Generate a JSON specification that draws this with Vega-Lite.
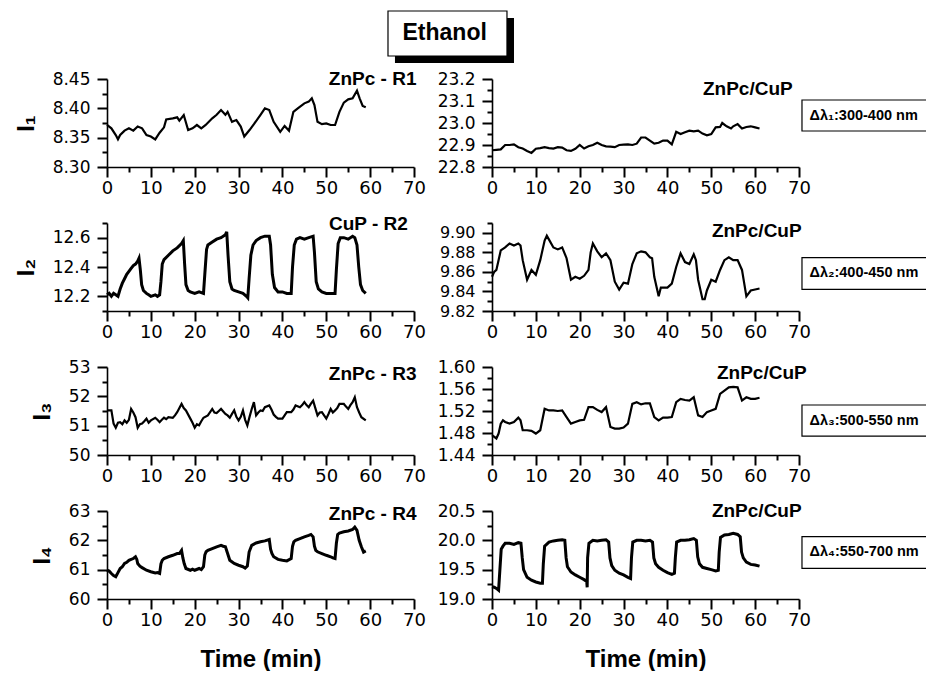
{
"$schema":"https://vega.github.io/schema/vega-lite/v6.json",
"autosize":{"type":"pad"},
"padding":{"left":14,"top":10,"right":0,"bottom":0},
"background":"white",
"config":{
 "font":"Liberation Sans",
 "view":{"stroke":null},
 "axis":{"grid":false,"ticks":true,"domainColor":"black","tickColor":"black","labelColor":"black","titleColor":"black","labelFont":"DejaVu Sans","titleFont":"Liberation Sans","labelFontSize":17,"domainWidth":1.6,"tickWidth":2,"labelOverlap":false,"labelFlush":false,"tickSize":10},
 "axisX":{"labelPadding":2,"labelFontSize":18},
 "axisY":{"labelPadding":7,"titleFontSize":24,"titleFontWeight":"bold","titlePadding":14}
},
"columns":2,
"spacing":{"row":56,"column":78},
"bounds":"flush",
"concat":[
{"width":307,"height":88,"resolve":{"axis":{"x":"independent","y":"independent"}},"layer":[
 {"data":{"name":"r1"},"mark":{"type":"line","color":"black","strokeWidth":2.2},"encoding":{
  "x":{"field":"t","type":"quantitative","scale":{"domain":[0,70],"nice":false,"zero":false},"axis":{"values":[0,10,20,30,40,50,60,70],"format":"d","ticks":true,"tickSize":10,"labelOverlap":false,"title":null}},
  "y":{"field":"v","type":"quantitative","scale":{"domain":[8.3,8.45],"nice":false,"zero":false},"axis":{"values":[8.3,8.35,8.4,8.45],"format":".2f","ticks":true,"tickSize":10,"labelOverlap":false,"title":"I₁"}}}},
 {"data":{"values":[{}]},"mark":{"type":"text","fontSize":19,"fontWeight":"bold","align":"right","baseline":"alphabetic","color":"black"},"encoding":{"x":{"datum":70.56,"axis":{"orient":"bottom","values":[5,15,25,35,45,55,65],"labels":false,"domain":false,"ticks":true,"tickSize":5,"title":null}},"y":{"datum":8.4398,"axis":{"orient":"left","values":[8.325,8.375,8.425],"labels":false,"domain":false,"ticks":true,"tickSize":5,"title":null}},"text":{"value":"ZnPc - R1"}}},
 {"data":{"values":[{}]},"mark":{"type":"rect","color":"black"},"encoding":{"x":{"datum":65.66,"axis":null},"x2":{"datum":92.8},"y":{"datum":8.554,"axis":null},"y2":{"datum":8.4773}}},
 {"data":{"values":[{}]},"mark":{"type":"rect","fill":"white","stroke":"black","strokeWidth":1.2},"encoding":{"x":{"datum":64.07,"axis":null},"x2":{"datum":91.2},"y":{"datum":8.5659,"axis":null},"y2":{"datum":8.4892}}},
 {"data":{"values":[{}]},"mark":{"type":"text","fontSize":23,"fontWeight":"bold","align":"center","baseline":"middle","color":"black"},"encoding":{"x":{"datum":77.0,"axis":null},"y":{"datum":8.5276,"axis":null},"text":{"value":"Ethanol"}}}
]},
{"width":307,"height":88,"resolve":{"axis":{"x":"independent","y":"independent"}},"layer":[
 {"data":{"name":"s1"},"mark":{"type":"line","color":"black","strokeWidth":2.2},"encoding":{
  "x":{"field":"t","type":"quantitative","scale":{"domain":[0,70],"nice":false,"zero":false},"axis":{"values":[0,10,20,30,40,50,60,70],"format":"d","ticks":true,"tickSize":10,"labelOverlap":false,"title":null}},
  "y":{"field":"v","type":"quantitative","scale":{"domain":[22.8,23.2],"nice":false,"zero":false},"axis":{"values":[22.8,22.9,23.0,23.1,23.2],"format":".1f","ticks":true,"tickSize":10,"labelOverlap":false,"title":null}}}},
 {"data":{"values":[{}]},"mark":{"type":"text","fontSize":19,"fontWeight":"bold","align":"right","baseline":"alphabetic","color":"black"},"encoding":{"x":{"datum":68.56,"axis":{"orient":"bottom","values":[5,15,25,35,45,55,65],"labels":false,"domain":false,"ticks":true,"tickSize":5,"title":null}},"y":{"datum":23.127,"axis":{"orient":"left","values":[22.85,22.95,23.05,23.15],"labels":false,"domain":false,"ticks":true,"tickSize":5,"title":null}},"text":{"value":"ZnPc/CuP"}}},
 {"data":{"values":[{}]},"mark":{"type":"rect","fill":"white","stroke":"black","strokeWidth":1.2},"encoding":{"x":{"datum":70.68,"axis":null},"x2":{"datum":100},"y":{"datum":23.1045,"axis":null},"y2":{"datum":22.9636}}},
 {"data":{"values":[{}]},"mark":{"type":"text","fontSize":14.5,"fontWeight":"bold","align":"left","baseline":"middle","color":"black"},"encoding":{"x":{"datum":72.4,"axis":null},"y":{"datum":23.034,"axis":null},"text":{"value":"Δλ₁:300-400 nm"}}}
]},
{"width":307,"height":88,"resolve":{"axis":{"x":"independent","y":"independent"}},"layer":[
 {"data":{"name":"r2"},"mark":{"type":"line","color":"black","strokeWidth":3},"encoding":{
  "x":{"field":"t","type":"quantitative","scale":{"domain":[0,70],"nice":false,"zero":false},"axis":{"values":[0,10,20,30,40,50,60,70],"format":"d","ticks":true,"tickSize":10,"labelOverlap":false,"title":null}},
  "y":{"field":"v","type":"quantitative","scale":{"domain":[12.1,12.7],"nice":false,"zero":false},"axis":{"values":[12.2,12.4,12.6],"format":".1f","ticks":true,"tickSize":10,"labelOverlap":false,"title":"I₂"}}}},
 {"data":{"values":[{}]},"mark":{"type":"text","fontSize":19,"fontWeight":"bold","align":"right","baseline":"alphabetic","color":"black"},"encoding":{"x":{"datum":68.6,"axis":{"orient":"bottom","values":[5,15,25,35,45,55,65],"labels":false,"domain":false,"ticks":true,"tickSize":5,"title":null}},"y":{"datum":12.652,"axis":{"orient":"left","values":[12.1,12.3,12.5,12.7],"labels":false,"domain":false,"ticks":true,"tickSize":5,"title":null}},"text":{"value":"CuP - R2"}}}
]},
{"width":307,"height":88,"resolve":{"axis":{"x":"independent","y":"independent"}},"layer":[
 {"data":{"name":"s2"},"mark":{"type":"line","color":"black","strokeWidth":2.2},"encoding":{
  "x":{"field":"t","type":"quantitative","scale":{"domain":[0,70],"nice":false,"zero":false},"axis":{"values":[0,10,20,30,40,50,60,70],"format":"d","ticks":true,"tickSize":10,"labelOverlap":false,"title":null}},
  "y":{"field":"v","type":"quantitative","scale":{"domain":[9.82,9.91],"nice":false,"zero":false},"axis":{"values":[9.82,9.84,9.86,9.88,9.9],"format":".2f","ticks":true,"tickSize":10,"labelOverlap":false,"labelFontSize":16,"title":null}}}},
 {"data":{"values":[{}]},"mark":{"type":"text","fontSize":19,"fontWeight":"bold","align":"right","baseline":"alphabetic","color":"black"},"encoding":{"x":{"datum":70.6,"axis":{"orient":"bottom","values":[5,15,25,35,45,55,65],"labels":false,"domain":false,"ticks":true,"tickSize":5,"title":null}},"y":{"datum":9.8954,"axis":{"orient":"left","values":[9.83,9.85,9.87,9.89,9.91],"labels":false,"domain":false,"ticks":true,"tickSize":5,"title":null}},"text":{"value":"ZnPc/CuP"}}},
 {"data":{"values":[{}]},"mark":{"type":"rect","fill":"white","stroke":"black","strokeWidth":1.2},"encoding":{"x":{"datum":70.68,"axis":null},"x2":{"datum":100},"y":{"datum":9.8745,"axis":null},"y2":{"datum":9.8422}}},
 {"data":{"values":[{}]},"mark":{"type":"text","fontSize":14.5,"fontWeight":"bold","align":"left","baseline":"middle","color":"black"},"encoding":{"x":{"datum":72.4,"axis":null},"y":{"datum":9.8584,"axis":null},"text":{"value":"Δλ₂:400-450 nm"}}}
]},
{"width":307,"height":88,"resolve":{"axis":{"x":"independent","y":"independent"}},"layer":[
 {"data":{"name":"r3"},"mark":{"type":"line","color":"black","strokeWidth":2.2},"encoding":{
  "x":{"field":"t","type":"quantitative","scale":{"domain":[0,70],"nice":false,"zero":false},"axis":{"values":[0,10,20,30,40,50,60,70],"format":"d","ticks":true,"tickSize":10,"labelOverlap":false,"title":null}},
  "y":{"field":"v","type":"quantitative","scale":{"domain":[50,53],"nice":false,"zero":false},"axis":{"values":[50,51,52,53],"format":"d","ticks":true,"tickSize":10,"labelOverlap":false,"title":"I₃"}}}},
 {"data":{"values":[{}]},"mark":{"type":"text","fontSize":19,"fontWeight":"bold","align":"right","baseline":"alphabetic","color":"black"},"encoding":{"x":{"datum":70.56,"axis":{"orient":"bottom","values":[5,15,25,35,45,55,65],"labels":false,"domain":false,"ticks":true,"tickSize":5,"title":null}},"y":{"datum":52.557,"axis":{"orient":"left","values":[50.5,51.5,52.5],"labels":false,"domain":false,"ticks":true,"tickSize":5,"title":null}},"text":{"value":"ZnPc - R3"}}}
]},
{"width":307,"height":88,"resolve":{"axis":{"x":"independent","y":"independent"}},"layer":[
 {"data":{"name":"s3"},"mark":{"type":"line","color":"black","strokeWidth":2.2},"encoding":{
  "x":{"field":"t","type":"quantitative","scale":{"domain":[0,70],"nice":false,"zero":false},"axis":{"values":[0,10,20,30,40,50,60,70],"format":"d","ticks":true,"tickSize":10,"labelOverlap":false,"title":null}},
  "y":{"field":"v","type":"quantitative","scale":{"domain":[1.44,1.6],"nice":false,"zero":false},"axis":{"values":[1.44,1.48,1.52,1.56,1.6],"format":".2f","ticks":true,"tickSize":10,"labelOverlap":false,"title":null}}}},
 {"data":{"values":[{}]},"mark":{"type":"text","fontSize":19,"fontWeight":"bold","align":"right","baseline":"alphabetic","color":"black"},"encoding":{"x":{"datum":71.75,"axis":{"orient":"bottom","values":[5,15,25,35,45,55,65],"labels":false,"domain":false,"ticks":true,"tickSize":5,"title":null}},"y":{"datum":1.5782,"axis":{"orient":"left","values":[1.46,1.5,1.54,1.58],"labels":false,"domain":false,"ticks":true,"tickSize":5,"title":null}},"text":{"value":"ZnPc/CuP"}}},
 {"data":{"values":[{}]},"mark":{"type":"rect","fill":"white","stroke":"black","strokeWidth":1.2},"encoding":{"x":{"datum":70.68,"axis":null},"x2":{"datum":100},"y":{"datum":1.5309,"axis":null},"y2":{"datum":1.4745}}},
 {"data":{"values":[{}]},"mark":{"type":"text","fontSize":14.5,"fontWeight":"bold","align":"left","baseline":"middle","color":"black"},"encoding":{"x":{"datum":72.4,"axis":null},"y":{"datum":1.5027,"axis":null},"text":{"value":"Δλ₃:500-550 nm"}}}
]},
{"width":307,"height":88,"resolve":{"axis":{"x":"independent","y":"independent"}},"layer":[
 {"data":{"name":"r4"},"mark":{"type":"line","color":"black","strokeWidth":3},"encoding":{
  "x":{"field":"t","type":"quantitative","scale":{"domain":[0,70],"nice":false,"zero":false},"axis":{"values":[0,10,20,30,40,50,60,70],"format":"d","ticks":true,"tickSize":10,"labelOverlap":false,"title":"Time (min)","titleFontSize":24,"titleFontWeight":"bold","titlePadding":18}},
  "y":{"field":"v","type":"quantitative","scale":{"domain":[60,63],"nice":false,"zero":false},"axis":{"values":[60,61,62,63],"format":"d","ticks":true,"tickSize":10,"labelOverlap":false,"title":"I₄"}}}},
 {"data":{"values":[{}]},"mark":{"type":"text","fontSize":19,"fontWeight":"bold","align":"right","baseline":"alphabetic","color":"black"},"encoding":{"x":{"datum":70.56,"axis":{"orient":"bottom","values":[5,15,25,35,45,55,65],"labels":false,"domain":false,"ticks":true,"tickSize":5,"title":null}},"y":{"datum":62.693,"axis":{"orient":"left","values":[60.5,61.5,62.5],"labels":false,"domain":false,"ticks":true,"tickSize":5,"title":null}},"text":{"value":"ZnPc - R4"}}}
]},
{"width":307,"height":88,"resolve":{"axis":{"x":"independent","y":"independent"}},"layer":[
 {"data":{"name":"s4"},"mark":{"type":"line","color":"black","strokeWidth":3},"encoding":{
  "x":{"field":"t","type":"quantitative","scale":{"domain":[0,70],"nice":false,"zero":false},"axis":{"values":[0,10,20,30,40,50,60,70],"format":"d","ticks":true,"tickSize":10,"labelOverlap":false,"title":"Time (min)","titleFontSize":24,"titleFontWeight":"bold","titlePadding":18}},
  "y":{"field":"v","type":"quantitative","scale":{"domain":[19,20.5],"nice":false,"zero":false},"axis":{"values":[19,19.5,20,20.5],"format":".1f","ticks":true,"tickSize":10,"labelOverlap":false,"title":null}}}},
 {"data":{"values":[{}]},"mark":{"type":"text","fontSize":19,"fontWeight":"bold","align":"right","baseline":"alphabetic","color":"black"},"encoding":{"x":{"datum":70.6,"axis":{"orient":"bottom","values":[5,15,25,35,45,55,65],"labels":false,"domain":false,"ticks":true,"tickSize":5,"title":null}},"y":{"datum":20.393,"axis":{"orient":"left","values":[19.25,19.75,20.25],"labels":false,"domain":false,"ticks":true,"tickSize":5,"title":null}},"text":{"value":"ZnPc/CuP"}}},
 {"data":{"values":[{}]},"mark":{"type":"rect","fill":"white","stroke":"black","strokeWidth":1.2},"encoding":{"x":{"datum":70.68,"axis":null},"x2":{"datum":100},"y":{"datum":20.062,"axis":null},"y2":{"datum":19.523}}},
 {"data":{"values":[{}]},"mark":{"type":"text","fontSize":14.5,"fontWeight":"bold","align":"left","baseline":"middle","color":"black"},"encoding":{"x":{"datum":72.4,"axis":null},"y":{"datum":19.793,"axis":null},"text":{"value":"Δλ₄:550-700 nm"}}}
]}
],
"datasets":{
"r1":[{"t":0,"v":8.3716},{"t":1,"v":8.3659},{"t":2,"v":8.3545},{"t":2.5,"v":8.3472},{"t":3,"v":8.3545},{"t":4,"v":8.362},{"t":5,"v":8.366},{"t":6,"v":8.362},{"t":7,"v":8.369},{"t":8,"v":8.366},{"t":9,"v":8.3545},{"t":10,"v":8.352},{"t":11,"v":8.347},{"t":12,"v":8.3585},{"t":13,"v":8.3676},{"t":13.5,"v":8.381},{"t":15,"v":8.383},{"t":16,"v":8.3847},{"t":16.5,"v":8.379},{"t":17.5,"v":8.3886},{"t":18.5,"v":8.363},{"t":19.5,"v":8.366},{"t":20.5,"v":8.3716},{"t":21.5,"v":8.366},{"t":22.5,"v":8.3716},{"t":24,"v":8.383},{"t":25,"v":8.389},{"t":26,"v":8.397},{"t":27,"v":8.389},{"t":27.5,"v":8.394},{"t":28.5,"v":8.377},{"t":29.5,"v":8.38},{"t":30.5,"v":8.369},{"t":31.3,"v":8.352},{"t":32.5,"v":8.363},{"t":33.5,"v":8.373},{"t":35,"v":8.389},{"t":36,"v":8.4},{"t":37,"v":8.397},{"t":38,"v":8.377},{"t":39.5,"v":8.36},{"t":40.5,"v":8.37},{"t":41.5,"v":8.362},{"t":42.5,"v":8.394},{"t":43.5,"v":8.4},{"t":45,"v":8.4085},{"t":46,"v":8.4114},{"t":46.7,"v":8.417},{"t":47.3,"v":8.4057},{"t":48,"v":8.377},{"t":49,"v":8.373},{"t":50,"v":8.3744},{"t":51,"v":8.3716},{"t":52,"v":8.3716},{"t":53,"v":8.394},{"t":54,"v":8.4097},{"t":55,"v":8.4153},{"t":56,"v":8.417},{"t":57,"v":8.43},{"t":57.6,"v":8.417},{"t":58.3,"v":8.404},{"t":59,"v":8.4017}],
"r2":[{"t":0,"v":12.21},{"t":0.5,"v":12.22},{"t":1,"v":12.2},{"t":1.5,"v":12.22},{"t":2,"v":12.21},{"t":2.5,"v":12.2},{"t":3,"v":12.25},{"t":3.5,"v":12.29},{"t":4,"v":12.32},{"t":4.5,"v":12.35},{"t":5,"v":12.37},{"t":5.5,"v":12.39},{"t":6,"v":12.41},{"t":6.5,"v":12.42},{"t":7,"v":12.44},{"t":7.3,"v":12.46},{"t":7.6,"v":12.38},{"t":7.9,"v":12.28},{"t":8.3,"v":12.24},{"t":9,"v":12.22},{"t":9.5,"v":12.21},{"t":10,"v":12.2},{"t":11,"v":12.21},{"t":11.5,"v":12.2},{"t":12,"v":12.21},{"t":12.3,"v":12.3},{"t":12.6,"v":12.42},{"t":13,"v":12.45},{"t":14,"v":12.48},{"t":15,"v":12.51},{"t":16,"v":12.53},{"t":17,"v":12.56},{"t":17.4,"v":12.58},{"t":17.7,"v":12.42},{"t":18,"v":12.28},{"t":18.5,"v":12.24},{"t":19,"v":12.23},{"t":20,"v":12.22},{"t":21,"v":12.23},{"t":22,"v":12.22},{"t":22.3,"v":12.35},{"t":22.7,"v":12.52},{"t":23,"v":12.55},{"t":24,"v":12.57},{"t":25,"v":12.59},{"t":26,"v":12.6},{"t":27,"v":12.62},{"t":27.3,"v":12.64},{"t":27.6,"v":12.48},{"t":28,"v":12.3},{"t":28.5,"v":12.25},{"t":29,"v":12.24},{"t":30,"v":12.23},{"t":31,"v":12.22},{"t":31.8,"v":12.2},{"t":32.1,"v":12.19},{"t":32.4,"v":12.32},{"t":32.8,"v":12.48},{"t":33.3,"v":12.55},{"t":34,"v":12.58},{"t":35,"v":12.6},{"t":36,"v":12.61},{"t":37,"v":12.61},{"t":37.3,"v":12.55},{"t":37.7,"v":12.35},{"t":38.2,"v":12.26},{"t":39,"v":12.23},{"t":40,"v":12.23},{"t":41,"v":12.22},{"t":42,"v":12.22},{"t":42.3,"v":12.4},{"t":42.7,"v":12.55},{"t":43.2,"v":12.59},{"t":44,"v":12.6},{"t":45,"v":12.59},{"t":46,"v":12.6},{"t":47,"v":12.61},{"t":47.3,"v":12.5},{"t":47.7,"v":12.3},{"t":48.2,"v":12.25},{"t":49,"v":12.23},{"t":50,"v":12.22},{"t":51,"v":12.22},{"t":52,"v":12.22},{"t":52.3,"v":12.38},{"t":52.7,"v":12.56},{"t":53.2,"v":12.6},{"t":54,"v":12.6},{"t":55,"v":12.59},{"t":56,"v":12.61},{"t":56.5,"v":12.6},{"t":57,"v":12.55},{"t":57.4,"v":12.4},{"t":57.8,"v":12.28},{"t":58.3,"v":12.24},{"t":59,"v":12.22}],
"r3":[{"t":0,"v":51.52},{"t":1,"v":51.52},{"t":1.5,"v":51.07},{"t":2,"v":50.93},{"t":2.5,"v":51.1},{"t":3,"v":51.12},{"t":3.5,"v":51.05},{"t":4,"v":51.18},{"t":4.5,"v":51.1},{"t":5,"v":51.2},{"t":5.5,"v":51.57},{"t":6,"v":51.45},{"t":6.5,"v":51.29},{"t":7,"v":50.93},{"t":7.5,"v":51.05},{"t":8,"v":51.07},{"t":8.5,"v":51.15},{"t":9,"v":51.24},{"t":9.5,"v":51.1},{"t":10,"v":51.18},{"t":11,"v":51.27},{"t":11.5,"v":51.2},{"t":12,"v":51.12},{"t":12.5,"v":51.2},{"t":13,"v":51.27},{"t":13.5,"v":51.22},{"t":14,"v":51.29},{"t":15,"v":51.27},{"t":15.5,"v":51.35},{"t":16,"v":51.46},{"t":17,"v":51.74},{"t":17.5,"v":51.6},{"t":18,"v":51.52},{"t":19,"v":51.24},{"t":19.5,"v":51.1},{"t":20,"v":50.93},{"t":20.5,"v":51.05},{"t":21,"v":51.01},{"t":21.5,"v":51.15},{"t":22,"v":51.27},{"t":23,"v":51.35},{"t":24,"v":51.57},{"t":24.5,"v":51.45},{"t":25,"v":51.43},{"t":25.5,"v":51.5},{"t":26,"v":51.57},{"t":27,"v":51.4},{"t":27.5,"v":51.35},{"t":28,"v":51.27},{"t":28.5,"v":51.4},{"t":29,"v":51.52},{"t":29.5,"v":51.3},{"t":30,"v":51.18},{"t":30.5,"v":51.3},{"t":31,"v":51.52},{"t":31.5,"v":51.2},{"t":32,"v":51.01},{"t":32.5,"v":51.3},{"t":33,"v":51.57},{"t":33.5,"v":51.8},{"t":34,"v":51.35},{"t":34.5,"v":51.45},{"t":35,"v":51.52},{"t":35.5,"v":51.5},{"t":36,"v":51.63},{"t":37,"v":51.69},{"t":37.5,"v":51.55},{"t":38,"v":51.38},{"t":38.5,"v":51.3},{"t":39,"v":51.24},{"t":40,"v":51.24},{"t":40.5,"v":51.35},{"t":41,"v":51.46},{"t":42,"v":51.46},{"t":42.5,"v":51.55},{"t":43,"v":51.69},{"t":44,"v":51.63},{"t":44.5,"v":51.7},{"t":45,"v":51.8},{"t":45.5,"v":51.7},{"t":46,"v":51.63},{"t":46.5,"v":51.75},{"t":47,"v":51.85},{"t":47.5,"v":51.6},{"t":48,"v":51.35},{"t":48.5,"v":51.45},{"t":49,"v":51.46},{"t":49.5,"v":51.35},{"t":50,"v":51.24},{"t":50.5,"v":51.4},{"t":51,"v":51.57},{"t":51.5,"v":51.45},{"t":52,"v":51.52},{"t":52.5,"v":51.6},{"t":53,"v":51.74},{"t":54,"v":51.74},{"t":54.5,"v":51.65},{"t":55,"v":51.57},{"t":55.5,"v":51.7},{"t":56,"v":51.8},{"t":56.5,"v":51.97},{"t":57,"v":51.63},{"t":57.5,"v":51.45},{"t":58,"v":51.29},{"t":59,"v":51.18}],
"r4":[{"t":0,"v":60.98},{"t":0.5,"v":60.95},{"t":1,"v":60.87},{"t":1.5,"v":60.8},{"t":2,"v":60.76},{"t":2.5,"v":60.9},{"t":3,"v":61.04},{"t":3.5,"v":61.1},{"t":4,"v":61.21},{"t":4.5,"v":61.25},{"t":5,"v":61.32},{"t":5.5,"v":61.35},{"t":6,"v":61.38},{"t":6.5,"v":61.44},{"t":6.8,"v":61.35},{"t":7,"v":61.21},{"t":7.5,"v":61.12},{"t":8,"v":61.07},{"t":9,"v":60.98},{"t":10,"v":60.93},{"t":11,"v":60.89},{"t":11.5,"v":60.9},{"t":12,"v":60.87},{"t":12.3,"v":61.2},{"t":12.6,"v":61.32},{"t":13,"v":61.38},{"t":14,"v":61.44},{"t":15,"v":61.49},{"t":16,"v":61.55},{"t":16.5,"v":61.55},{"t":17,"v":61.66},{"t":17.3,"v":61.4},{"t":17.6,"v":61.21},{"t":18,"v":61.04},{"t":19,"v":60.98},{"t":19.5,"v":61.02},{"t":20,"v":60.98},{"t":21,"v":61.04},{"t":21.5,"v":61.0},{"t":22,"v":61.1},{"t":22.3,"v":61.5},{"t":22.6,"v":61.61},{"t":23,"v":61.66},{"t":24,"v":61.72},{"t":25,"v":61.78},{"t":26,"v":61.83},{"t":26.5,"v":61.8},{"t":27,"v":61.78},{"t":27.5,"v":61.55},{"t":28,"v":61.32},{"t":29,"v":61.21},{"t":30,"v":61.15},{"t":31,"v":61.1},{"t":31.5,"v":61.05},{"t":32,"v":61.12},{"t":32.4,"v":61.6},{"t":33,"v":61.83},{"t":34,"v":61.91},{"t":35,"v":61.95},{"t":36,"v":61.98},{"t":37,"v":62.03},{"t":37.3,"v":61.7},{"t":37.6,"v":61.55},{"t":38,"v":61.44},{"t":39,"v":61.35},{"t":40,"v":61.32},{"t":41,"v":61.3},{"t":42,"v":61.38},{"t":42.3,"v":61.8},{"t":42.6,"v":61.95},{"t":43,"v":62.0},{"t":44,"v":62.06},{"t":45,"v":62.12},{"t":46,"v":62.17},{"t":46.5,"v":62.2},{"t":47,"v":62.12},{"t":47.3,"v":61.8},{"t":47.6,"v":61.66},{"t":48,"v":61.61},{"t":49,"v":61.55},{"t":50,"v":61.49},{"t":51,"v":61.44},{"t":51.5,"v":61.4},{"t":52,"v":61.38},{"t":52.3,"v":61.9},{"t":52.6,"v":62.2},{"t":53,"v":62.25},{"t":54,"v":62.29},{"t":55,"v":62.32},{"t":56,"v":62.37},{"t":56.5,"v":62.45},{"t":57,"v":62.34},{"t":57.5,"v":62.0},{"t":58,"v":61.78},{"t":58.5,"v":61.6},{"t":59,"v":61.64}],
"s1":[{"t":0,"v":22.876},{"t":1,"v":22.878},{"t":2,"v":22.88},{"t":3,"v":22.9},{"t":4,"v":22.9},{"t":5,"v":22.903},{"t":6,"v":22.89},{"t":7,"v":22.884},{"t":8,"v":22.873},{"t":9,"v":22.864},{"t":10,"v":22.883},{"t":11,"v":22.886},{"t":12,"v":22.89},{"t":13,"v":22.886},{"t":14,"v":22.884},{"t":15,"v":22.89},{"t":16,"v":22.888},{"t":17,"v":22.876},{"t":18,"v":22.873},{"t":19,"v":22.883},{"t":20,"v":22.9},{"t":21,"v":22.884},{"t":22,"v":22.894},{"t":23,"v":22.9},{"t":24,"v":22.91},{"t":25,"v":22.9},{"t":26,"v":22.894},{"t":27,"v":22.893},{"t":28,"v":22.89},{"t":29,"v":22.9},{"t":30,"v":22.902},{"t":31,"v":22.903},{"t":32,"v":22.9},{"t":33,"v":22.906},{"t":34,"v":22.934},{"t":35,"v":22.934},{"t":36,"v":22.92},{"t":37,"v":22.906},{"t":38,"v":22.91},{"t":39,"v":22.92},{"t":40,"v":22.92},{"t":41,"v":22.903},{"t":42,"v":22.96},{"t":43,"v":22.95},{"t":44,"v":22.958},{"t":45,"v":22.965},{"t":46,"v":22.962},{"t":47,"v":22.965},{"t":48,"v":22.952},{"t":49,"v":22.944},{"t":50,"v":22.95},{"t":51,"v":22.98},{"t":52,"v":22.982},{"t":52.5,"v":23.0},{"t":53.5,"v":22.985},{"t":54.5,"v":22.975},{"t":55,"v":22.985},{"t":56,"v":22.995},{"t":57,"v":22.975},{"t":58,"v":22.982},{"t":59,"v":22.985},{"t":60,"v":22.98},{"t":61,"v":22.975}],
"s2":[{"t":0,"v":9.855},{"t":0.5,"v":9.86},{"t":1,"v":9.862},{"t":2,"v":9.882},{"t":3,"v":9.885},{"t":4,"v":9.889},{"t":5,"v":9.887},{"t":6,"v":9.889},{"t":6.5,"v":9.887},{"t":7,"v":9.872},{"t":8,"v":9.852},{"t":9,"v":9.862},{"t":10,"v":9.857},{"t":11,"v":9.872},{"t":12,"v":9.892},{"t":12.5,"v":9.897},{"t":13,"v":9.893},{"t":14,"v":9.885},{"t":15,"v":9.883},{"t":16,"v":9.885},{"t":17,"v":9.874},{"t":18,"v":9.852},{"t":19,"v":9.855},{"t":20,"v":9.853},{"t":21,"v":9.856},{"t":22,"v":9.862},{"t":22.5,"v":9.88},{"t":23,"v":9.889},{"t":24,"v":9.881},{"t":25,"v":9.875},{"t":26,"v":9.879},{"t":27,"v":9.872},{"t":28,"v":9.85},{"t":29,"v":9.842},{"t":30,"v":9.849},{"t":31,"v":9.848},{"t":32,"v":9.868},{"t":33,"v":9.879},{"t":34,"v":9.881},{"t":35,"v":9.88},{"t":36,"v":9.875},{"t":36.5,"v":9.874},{"t":37,"v":9.855},{"t":38,"v":9.835},{"t":38.5,"v":9.844},{"t":40,"v":9.844},{"t":41,"v":9.848},{"t":42,"v":9.865},{"t":43,"v":9.879},{"t":44,"v":9.87},{"t":45,"v":9.868},{"t":46,"v":9.878},{"t":46.5,"v":9.872},{"t":47,"v":9.852},{"t":48,"v":9.832},{"t":48.5,"v":9.832},{"t":49,"v":9.841},{"t":50,"v":9.852},{"t":51,"v":9.85},{"t":52,"v":9.862},{"t":53,"v":9.872},{"t":54,"v":9.875},{"t":55,"v":9.872},{"t":56,"v":9.872},{"t":57,"v":9.862},{"t":58,"v":9.835},{"t":59,"v":9.841},{"t":60,"v":9.842},{"t":61,"v":9.843}],
"s3":[{"t":0,"v":1.476},{"t":1,"v":1.47},{"t":1.5,"v":1.479},{"t":2,"v":1.497},{"t":2.5,"v":1.503},{"t":3,"v":1.5},{"t":4,"v":1.497},{"t":5,"v":1.5},{"t":6,"v":1.508},{"t":6.5,"v":1.503},{"t":7,"v":1.485},{"t":8,"v":1.485},{"t":9,"v":1.484},{"t":10,"v":1.479},{"t":11,"v":1.485},{"t":12,"v":1.524},{"t":13,"v":1.521},{"t":14,"v":1.521},{"t":15,"v":1.52},{"t":16,"v":1.521},{"t":17,"v":1.509},{"t":18,"v":1.497},{"t":19,"v":1.5},{"t":20,"v":1.503},{"t":21,"v":1.504},{"t":22,"v":1.527},{"t":23,"v":1.527},{"t":24,"v":1.522},{"t":25,"v":1.518},{"t":26,"v":1.527},{"t":27,"v":1.491},{"t":28,"v":1.488},{"t":29,"v":1.488},{"t":30,"v":1.49},{"t":31,"v":1.497},{"t":32,"v":1.533},{"t":33,"v":1.536},{"t":34,"v":1.532},{"t":35,"v":1.534},{"t":36,"v":1.534},{"t":37,"v":1.509},{"t":38,"v":1.503},{"t":39,"v":1.508},{"t":40,"v":1.508},{"t":41,"v":1.509},{"t":42,"v":1.536},{"t":43,"v":1.542},{"t":44,"v":1.54},{"t":45,"v":1.539},{"t":46,"v":1.545},{"t":47,"v":1.512},{"t":48,"v":1.509},{"t":49,"v":1.518},{"t":50,"v":1.521},{"t":51,"v":1.524},{"t":52,"v":1.551},{"t":53,"v":1.557},{"t":54,"v":1.563},{"t":55,"v":1.564},{"t":56,"v":1.563},{"t":57,"v":1.539},{"t":58,"v":1.545},{"t":59,"v":1.542},{"t":60,"v":1.542},{"t":61,"v":1.544}],
"s4":[{"t":0,"v":19.21},{"t":0.5,"v":19.2},{"t":1,"v":19.18},{"t":1.5,"v":19.15},{"t":1.8,"v":19.5},{"t":2.1,"v":19.85},{"t":2.5,"v":19.9},{"t":3,"v":19.95},{"t":4,"v":19.95},{"t":5,"v":19.93},{"t":6,"v":19.96},{"t":6.6,"v":19.95},{"t":6.9,"v":19.7},{"t":7.2,"v":19.5},{"t":8,"v":19.37},{"t":9,"v":19.32},{"t":10,"v":19.29},{"t":11,"v":19.27},{"t":11.5,"v":19.27},{"t":11.7,"v":19.6},{"t":12,"v":19.9},{"t":13,"v":19.97},{"t":14,"v":19.99},{"t":15,"v":20.0},{"t":16,"v":20.01},{"t":16.6,"v":20.0},{"t":16.9,"v":19.7},{"t":17.2,"v":19.55},{"t":18,"v":19.46},{"t":19,"v":19.41},{"t":20,"v":19.37},{"t":21,"v":19.33},{"t":21.6,"v":19.3},{"t":21.7,"v":19.2},{"t":21.8,"v":19.7},{"t":22.1,"v":19.95},{"t":23,"v":20.0},{"t":24,"v":19.99},{"t":25,"v":20.0},{"t":26,"v":20.01},{"t":26.6,"v":19.97},{"t":26.9,"v":19.7},{"t":27.3,"v":19.57},{"t":28,"v":19.49},{"t":29,"v":19.44},{"t":30,"v":19.41},{"t":31,"v":19.37},{"t":31.6,"v":19.35},{"t":31.8,"v":19.7},{"t":32.1,"v":19.97},{"t":33,"v":20.0},{"t":34,"v":20.0},{"t":35,"v":19.99},{"t":36,"v":20.0},{"t":36.6,"v":19.97},{"t":36.9,"v":19.7},{"t":37.3,"v":19.6},{"t":38,"v":19.54},{"t":39,"v":19.49},{"t":40,"v":19.45},{"t":41,"v":19.42},{"t":41.6,"v":19.44},{"t":41.8,"v":19.7},{"t":42.1,"v":19.97},{"t":43,"v":20.0},{"t":44,"v":20.0},{"t":45,"v":20.01},{"t":46,"v":20.03},{"t":46.6,"v":20.0},{"t":46.9,"v":19.72},{"t":47.3,"v":19.6},{"t":48,"v":19.54},{"t":49,"v":19.52},{"t":50,"v":19.5},{"t":51,"v":19.48},{"t":51.6,"v":19.49},{"t":51.8,"v":19.8},{"t":52.1,"v":20.05},{"t":53,"v":20.09},{"t":54,"v":20.1},{"t":55,"v":20.12},{"t":56,"v":20.1},{"t":56.6,"v":20.06},{"t":56.9,"v":19.8},{"t":57.3,"v":19.7},{"t":58,"v":19.63},{"t":59,"v":19.59},{"t":60,"v":19.58},{"t":61,"v":19.56}]
}
}
